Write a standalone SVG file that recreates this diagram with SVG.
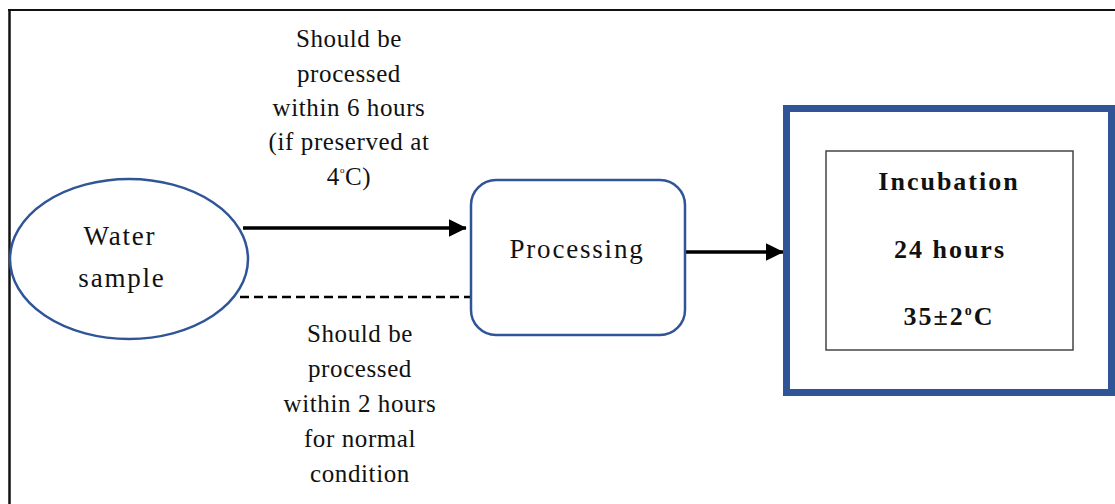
<svg xmlns="http://www.w3.org/2000/svg" width="1115" height="504" viewBox="0 0 1115 504">
<defs>
<style>
text{font-family:"Liberation Serif","DejaVu Serif",serif}
.lbl{font-size:25px;fill:#111;text-anchor:middle;letter-spacing:0.6px}
.node{font-size:27px;fill:#111;text-anchor:middle;letter-spacing:1.8px}
.bold{font-size:26px;font-weight:bold;fill:#111;text-anchor:middle;letter-spacing:2px}
.blue{fill:#fff;stroke:#2F5597}
.conn{stroke:#000;stroke-width:3.5;fill:none}
</style>
<marker id="ah" markerWidth="6" markerHeight="6" refX="5" refY="3" orient="auto" markerUnits="strokeWidth">
<path d="M0,0.4 L5.2,3 L0,5.6 Z" fill="#000"/>
</marker>
</defs>
<rect width="1115" height="504" fill="#fff"/>
<g id="frame" stroke="#111" fill="none">
<line x1="8" y1="10" x2="1115" y2="10" stroke-width="2"/>
<line x1="9.5" y1="9" x2="9.5" y2="504" stroke-width="2.5"/>
</g>
<g id="connectors">
<line class="conn" x1="243" y1="228" x2="466" y2="228" marker-end="url(#ah)"/>
<line x1="240" y1="297" x2="471" y2="297" stroke="#000" stroke-width="2.5" stroke-dasharray="9,5"/>
<line class="conn" x1="685" y1="252" x2="783" y2="252" marker-end="url(#ah)"/>
</g>
<g id="label-top">
<text class="lbl" x="349" y="47">Should be</text>
<text class="lbl" x="349" y="82">processed</text>
<text class="lbl" x="349" y="116">within 6 hours</text>
<text class="lbl" x="349" y="150">(if preserved at</text>
<text class="lbl" x="349" y="185">4<tspan font-size="9" dy="-12">o</tspan><tspan dy="12">C)</tspan></text>
</g>
<g id="label-bottom">
<text class="lbl" x="360" y="342">Should be</text>
<text class="lbl" x="360" y="377">processed</text>
<text class="lbl" x="360" y="412">within 2 hours</text>
<text class="lbl" x="360" y="447">for normal</text>
<text class="lbl" x="360" y="482">condition</text>
</g>
<g id="water-sample">
<ellipse class="blue" cx="129" cy="259" rx="119" ry="80" stroke-width="2.5"/>
<text class="node" x="120" y="245">Water</text>
<text class="node" x="122" y="287">sample</text>
</g>
<g id="processing">
<rect class="blue" x="471" y="180" width="214" height="155" rx="25" ry="25" stroke-width="2.5"/>
<text class="node" x="577" y="258">Processing</text>
</g>
<g id="incubation">
<rect class="blue" x="786.5" y="108.5" width="325" height="284" stroke-width="7"/>
<rect x="826" y="151" width="247" height="199" fill="#fff" stroke="#444" stroke-width="1.5"/>
<text class="bold" x="949" y="190">Incubation</text>
<text class="bold" x="950" y="258">24 hours</text>
<text class="bold" x="949" y="325">35±2<tspan font-size="14" dy="-10">o</tspan><tspan dy="10">C</tspan></text>
</g>
</svg>
